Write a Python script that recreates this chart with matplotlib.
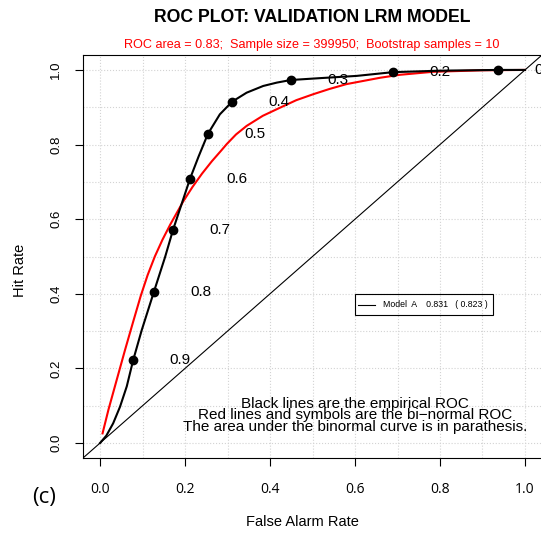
import matplotlib
matplotlib.use('Agg')
import matplotlib.pyplot as plt
import numpy as np

plt.rcParams['font.family'] = ['Liberation Sans', 'DejaVu Sans']

# empirical ROC (black)
emp_far = [0.0, 0.015, 0.031, 0.047, 0.063, 0.078, 0.098, 0.127, 0.153, 0.172,
           0.212, 0.232, 0.254, 0.282, 0.311, 0.345, 0.384, 0.416, 0.449, 0.518,
           0.604, 0.689, 0.8, 0.937, 1.0]
emp_hit = [0.0, 0.02, 0.053, 0.097, 0.152, 0.222, 0.302, 0.406, 0.498, 0.572,
           0.709, 0.768, 0.829, 0.881, 0.915, 0.939, 0.957, 0.966, 0.973, 0.978,
           0.984, 0.994, 0.998, 1.0, 1.0]

# threshold points with labels
pt_far = [0.078, 0.127, 0.172, 0.212, 0.254, 0.311, 0.449, 0.689, 0.937]
pt_hit = [0.222, 0.406, 0.572, 0.709, 0.829, 0.915, 0.973, 0.994, 1.0]
thresholds = ['0.9', '0.8', '0.7', '0.6', '0.5', '0.4', '0.3', '0.2', '0.1']

# binormal ROC (red)
bin_far = [0.006, 0.02, 0.039, 0.059, 0.078, 0.096, 0.112, 0.129, 0.147, 0.165,
           0.196, 0.218, 0.24, 0.263, 0.286, 0.298, 0.32, 0.345, 0.383, 0.424,
           0.462, 0.502, 0.54, 0.58, 0.659, 0.706, 0.784, 0.9, 1.0]
bin_hit = [0.026, 0.09, 0.168, 0.25, 0.325, 0.395, 0.45, 0.50, 0.545, 0.585,
           0.648, 0.687, 0.722, 0.755, 0.785, 0.801, 0.827, 0.850, 0.877, 0.899,
           0.919, 0.935, 0.949, 0.962, 0.979, 0.987, 0.995, 0.999, 1.0]

fig = plt.figure(figsize=(5.41, 5.34), dpi=100)
ax = fig.add_axes([83/541, 1 - 458/534, 459/541, 403/534])

ticks = np.arange(0, 1.01, 0.1)
for t in ticks:
    ax.axvline(t, color='#d3d3d3', ls=':', lw=0.8, zorder=0)
    ax.axhline(t, color='#d3d3d3', ls=':', lw=0.8, zorder=0)

ax.axline((0, 0), (1, 1), color='black', lw=0.8)
ax.plot(bin_far, bin_hit, color='red', lw=1.5, solid_joinstyle='round')
ax.plot(emp_far, emp_hit, color='black', lw=1.5, solid_joinstyle='round')
ax.plot(pt_far, pt_hit, 'o', color='black', ms=6)
for x, y, s in zip(pt_far, pt_hit, thresholds):
    ax.text(x + 0.11, y, s, ha='center', va='center', fontsize=11, clip_on=False)

ax.text(0.6, 0.104, 'Black lines are the empirical ROC', ha='center', va='center', fontsize=11)
ax.text(0.6, 0.074, 'Red lines and symbols are the bi\u2212normal ROC', ha='center', va='center', fontsize=11)
ax.text(0.6, 0.043, 'The area under the binormal curve is in parathesis.', ha='center', va='center', fontsize=11)

# legend box
ax.add_patch(plt.Rectangle((0.6, 0.342), 0.325, 0.058, fill=False, lw=0.8, color='black'))
ax.plot([0.607, 0.647], [0.371, 0.371], color='black', lw=0.8)
ax.text(0.665, 0.371, 'Model  A    0.831   ( 0.823 )', ha='left', va='center', fontsize=6.3)

ax.set_xlim(-0.04, 1.04)
ax.set_ylim(-0.04, 1.04)
ax.set_xticks(np.arange(0, 1.01, 0.2))
ax.set_yticks(np.arange(0, 1.01, 0.2))
ax.set_xticklabels(['0.0', '0.2', '0.4', '0.6', '0.8', '1.0'], fontsize=10,
                   family=['Open Sans', 'DejaVu Sans'])
ax.set_yticklabels(['0.0', '0.2', '0.4', '0.6', '0.8', '1.0'], fontsize=9.5, rotation=90, va='center')
ax.tick_params(direction='out', length=6, width=0.8)
ax.tick_params(axis='x', pad=11)
ax.tick_params(axis='y', pad=9)
for sp in ax.spines.values():
    sp.set_linewidth(0.8)

fig.text(312/541, 1 - 18/534, 'ROC PLOT: VALIDATION LRM MODEL', ha='center', va='center',
         fontsize=12.7, fontweight='bold')
fig.text(312/541, 1 - 45/534, 'ROC area = 0.83;  Sample size = 399950;  Bootstrap samples = 10',
         ha='center', va='center', fontsize=9.1, color='red')
fig.text(302/541, 1 - 522/534, 'False Alarm Rate', ha='center', va='center', fontsize=10.5)
fig.text(20/541, 1 - 270/534, 'Hit Rate', ha='center', va='center', fontsize=10.5, rotation=90)
fig.text(44/541, 1 - 497/534, '(c)', ha='center', va='center', fontsize=16,
         family=['Open Sans', 'DejaVu Sans'])

fig.savefig('out.png', dpi=100)
